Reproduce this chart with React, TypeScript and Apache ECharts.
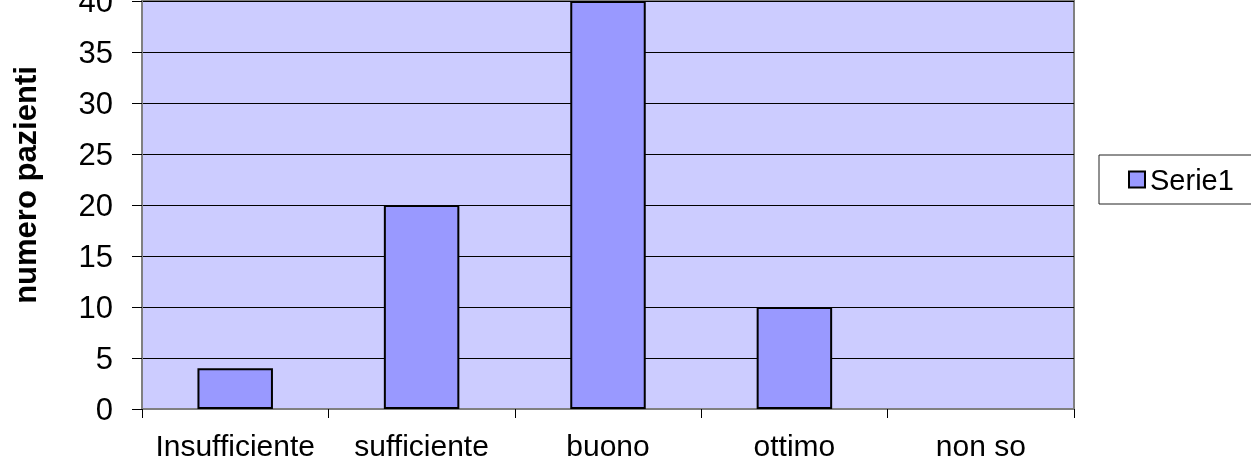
import React, { useEffect, useRef } from "react";
import * as echarts from "echarts";

const categories = ["Insufficiente", "sufficiente", "buono", "ottimo", "non so"];
const serie1 = [4, 20, 40, 10, 0];
const yTicks = { min: 0, max: 40, interval: 5 };
const seriesName = "Serie1";
const yTitle = "numero pazienti";

const FONT = "'Liberation Sans', Arial, Helvetica, sans-serif";

export default function App() {
  const ref = useRef<HTMLDivElement>(null);
  useEffect(() => {
    document.body.style.margin = "0";
    const chart = echarts.init(ref.current!, undefined, { renderer: "svg" });
    chart.setOption({
      animation: false,
      textStyle: { fontFamily: FONT, color: "#000" },
      grid: {
        left: 142,
        right: 177,
        top: 1,
        bottom: 52,
        containLabel: false,
        outerBoundsMode: "none",
        show: true,
        backgroundColor: "#CCCCFF",
        borderColor: "#808080",
        borderWidth: 2,
      },
      legend: {
        left: 1099,
        top: 155,
        orient: "vertical",
        backgroundColor: "#fff",
        borderColor: "#222",
        borderWidth: 1,
        borderRadius: 0,
        padding: [10, 22, 10, 29],
        itemWidth: 16,
        itemHeight: 16,
        itemGap: 6,
        icon: "rect",
        textStyle: { fontFamily: FONT, fontSize: 29, color: "#000", padding: [0, 0, 0, 0] },
        itemStyle: { color: "#9999FF", borderColor: "#000", borderWidth: 2 },
        data: [seriesName],
      },
      graphic: [
        {
          type: "text",
          x: 25,
          y: 185,
          rotation: Math.PI / 2,
          style: {
            text: yTitle,
            fontFamily: FONT,
            fontSize: 31,
            fontWeight: "bold",
            fill: "#000",
            align: "center",
            verticalAlign: "middle",
          },
        },
      ],
      xAxis: {
        type: "category",
        data: categories,
        axisLine: { show: true, lineStyle: { color: "#808080", width: 2 } },
        axisTick: { show: true, length: 9, lineStyle: { color: "#000", width: 1 } },
        axisLabel: { fontFamily: FONT, fontSize: 30, color: "#000", margin: 21, interval: 0 },
        splitLine: { show: false },
      },
      yAxis: {
        type: "value",
        min: yTicks.min,
        max: yTicks.max,
        interval: yTicks.interval,
        axisLine: { show: true, lineStyle: { color: "#808080", width: 2 } },
        axisTick: { show: true, length: 10, lineStyle: { color: "#000", width: 1 } },
        axisLabel: { fontFamily: FONT, fontSize: 31, color: "#000", margin: 29 },
        splitLine: { show: true, lineStyle: { color: "#000", width: 1 } },
      },
      series: [
        {
          name: seriesName,
          type: "bar",
          barWidth: "40.5%",
          data: serie1.map((v) =>
            v === 0 ? { value: v, itemStyle: { borderWidth: 0 } } : v
          ),
          itemStyle: { color: "#9999FF", borderColor: "#000", borderWidth: 2 },
        },
      ],
    });
    return () => chart.dispose();
  }, []);
  return (
    <div
      ref={ref}
      style={{ position: "fixed", left: 0, top: 0, width: 1251, height: 461 }}
    />
  );
}
